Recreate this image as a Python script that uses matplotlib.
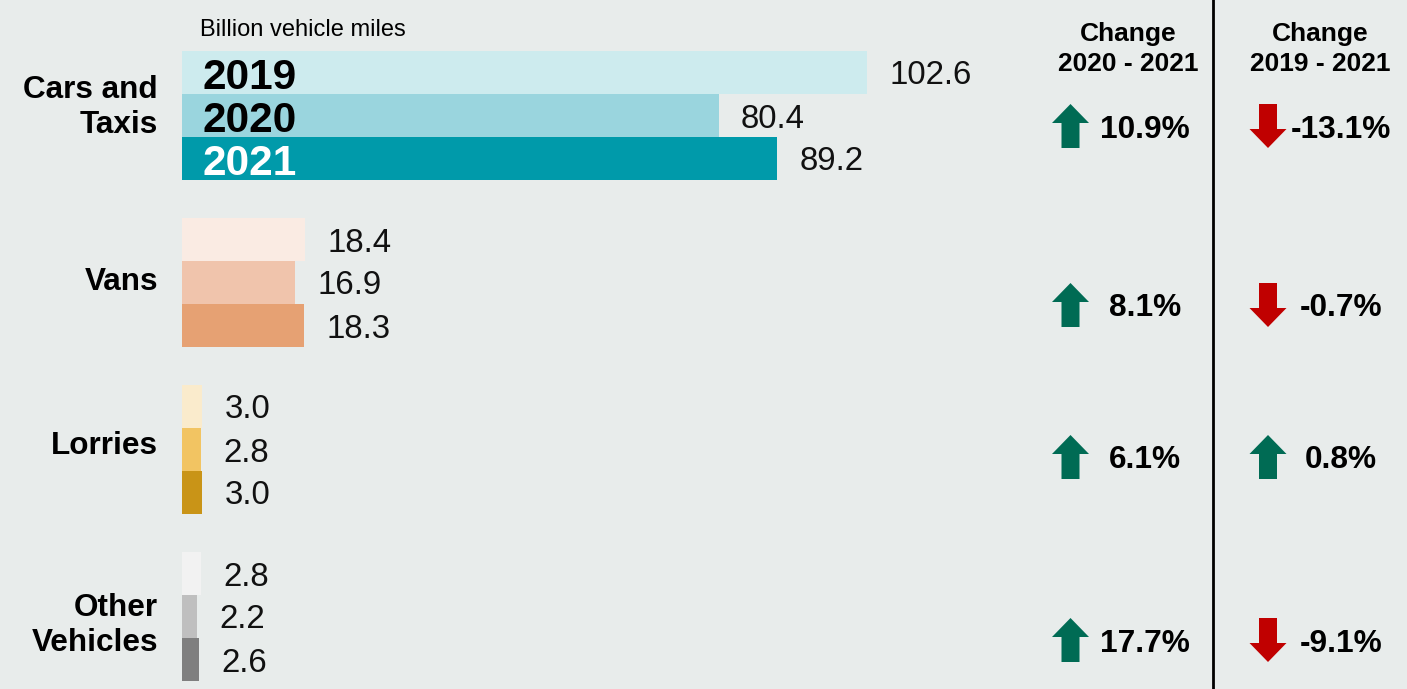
import matplotlib.pyplot as plt
from matplotlib.patches import Polygon

# Données : milliards de miles parcourus par type de véhicule
categories = ["Cars and\nTaxis", "Vans", "Lorries", "Other\nVehicles"]
years = ["2019", "2020", "2021"]
miles_2019 = [102.6, 18.4, 3.0, 2.8]
miles_2020 = [80.4, 16.9, 2.8, 2.2]
miles_2021 = [89.2, 18.3, 3.0, 2.6]
change_2020_2021 = [10.9, 8.1, 6.1, 17.7]
change_2019_2021 = [-13.1, -0.7, 0.8, -9.1]

# Couleurs des barres (une palette par catégorie, une nuance par année)
palettes = [
    ["#CDEBEE", "#9AD5DE", "#009AAA"],
    ["#FAEBE3", "#F0C4AC", "#E6A173"],
    ["#FAEBCC", "#F2C462", "#C99417"],
    ["#F2F2F2", "#BFBFBF", "#7F7F7F"],
]
fond = "#E8ECEB"
vert = "#006B54"
rouge = "#C00000"

plt.rcParams['font.family'] = ['Liberation Sans', 'DejaVu Sans']

W, H = 1407, 689
fig = plt.figure(figsize=(W / 100, H / 100), dpi=100, facecolor=fond)

# Axe des barres : x en milliards de miles, y en pixels
x0 = 182          # bord gauche des barres (px)
k = 6.676         # px par milliard
ax = fig.add_axes([0, 0, 1, 1])
ax.set_facecolor(fond)
ax.set_xlim(-x0 / k, (W - x0) / k)
ax.set_ylim(H, 0)
ax.axis('off')

# Axe en pixels pour les colonnes de droite
ax2 = fig.add_axes([0, 0, 1, 1])
ax2.patch.set_alpha(0)
ax2.set_xlim(0, W)
ax2.set_ylim(H, 0)
ax2.axis('off')

haut_barre = 43
debut_groupe = 51
pas_groupe = 167
decal_label = [-8, -1, -3, 9]

series = [miles_2019, miles_2020, miles_2021]
for i in range(len(categories)):
    y_top = debut_groupe + i * pas_groupe
    for j in range(len(years)):
        v = series[j][i]
        yc = y_top + haut_barre * (j + 0.5)
        ax.barh(yc, v, height=haut_barre, left=0, color=palettes[i][j], linewidth=0)
        ax.annotate(f"{v:.1f}", (v, yc), xytext=(16, 0), textcoords='offset points',
                    ha='left', va='center_baseline', fontsize=23.8, color="#111111")
        # Années écrites dans les barres du premier groupe
        if i == 0:
            couleur = "white" if j == 2 else "black"
            ax.annotate(years[j], (0, yc), xytext=(15, -1), textcoords='offset points',
                        ha='left', va='center_baseline', fontsize=30.5, fontweight='bold',
                        color=couleur)
    yg = y_top + 1.5 * haut_barre + decal_label[i]
    ax2.text(158, yg, categories[i], ha='right', va='center', fontsize=22.7,
             fontweight='bold', linespacing=1.25)

ax2.text(200, 30, "Billion vehicle miles", ha='left', va='center', fontsize=17)

# En-têtes des colonnes de variation
ax2.text(1128, 49, "Change\n2020 - 2021", ha='center', va='center', fontsize=19,
         fontweight='bold', linespacing=1.3)
ax2.text(1320, 49, "Change\n2019 - 2021", ha='center', va='center', fontsize=19,
         fontweight='bold', linespacing=1.3)
ax2.plot([1212.5, 1212.5], [0, H], color="black", linewidth=2)


def fleche(xc, yc, monte):
    # Flèche de 44 px de haut : tête de 19 px, corps de 18 px de large
    if monte:
        pts = [(xc - 9, yc + 22), (xc - 9, yc - 3), (xc - 18.5, yc - 3), (xc, yc - 22),
               (xc + 18.5, yc - 3), (xc + 9, yc - 3), (xc + 9, yc + 22)]
    else:
        pts = [(xc - 9, yc - 22), (xc - 9, yc + 3), (xc - 18.5, yc + 3), (xc, yc + 22),
               (xc + 18.5, yc + 3), (xc + 9, yc + 3), (xc + 9, yc - 22)]
    ax2.add_patch(Polygon(pts, closed=True, color=vert if monte else rouge, linewidth=0))


lignes_y = [126, 305, 457, 640]
for i in range(len(categories)):
    yc = lignes_y[i]
    c1 = change_2020_2021[i]
    c2 = change_2019_2021[i]
    fleche(1070.5, yc, c1 >= 0)
    fleche(1268, yc, c2 >= 0)
    ax2.text(1145, yc, f"{c1:.1f}%", ha='center', va='center_baseline', fontsize=22.8,
             fontweight='bold')
    ax2.text(1341, yc, f"{c2:.1f}%", ha='center', va='center_baseline', fontsize=22.8,
             fontweight='bold')

fig.savefig("out.png", dpi=100, facecolor=fond)
